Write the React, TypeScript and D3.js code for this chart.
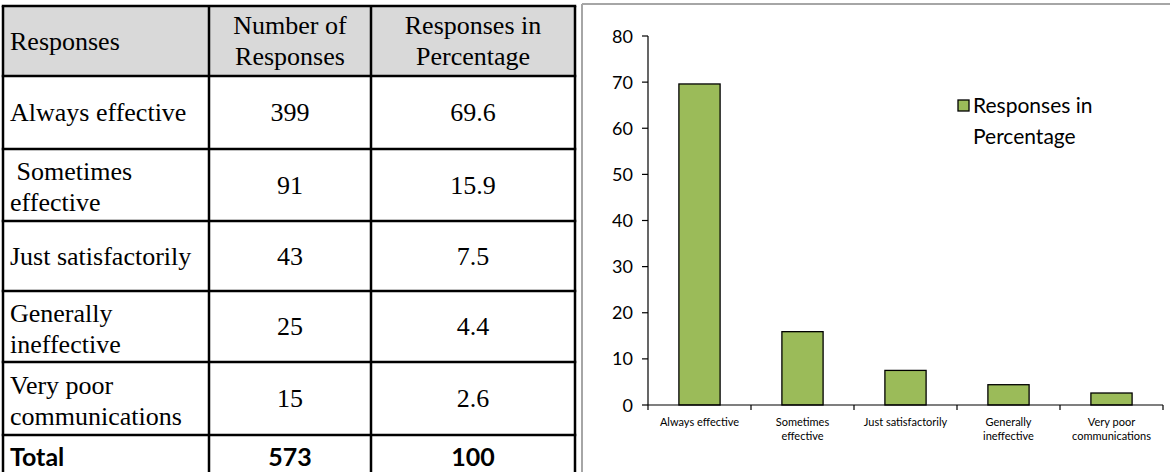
import React from "react";
import * as d3 from "d3";

const categories = ["Always effective", "Sometimes effective", "Just satisfactorily", "Generally ineffective", "Very poor communications"];
const tableLabels = [["Always effective"], [" Sometimes", "effective"], ["Just satisfactorily"], ["Generally", "ineffective"], ["Very poor", "communications"]];
const axisLabels = [["Always effective"], ["Sometimes", "effective"], ["Just satisfactorily"], ["Generally", "ineffective"], ["Very poor", "communications"]];
const counts = [399, 91, 43, 25, 15];
const percents = [69.6, 15.9, 7.5, 4.4, 2.6];
const totalCount = 573;
const totalPercent = 100;
const yTicks = [0, 10, 20, 30, 40, 50, 60, 70, 80];
const seriesName = ["Responses in", "Percentage"];

const W = 1170;
const H = 472;
const serif = "Liberation Serif, DejaVu Serif, serif";
const sans = "Lato, Open Sans, sans-serif";
const green = "#9bbb59";

export default function App() {
  const colX = [3, 209, 371, 575];
  const rowY = [6, 76, 149, 221, 291, 362, 435, 480];
  const fs = 26;

  const x = d3.scaleBand<string>().domain(categories).range([648, 1163]).paddingInner(0.6).paddingOuter(0.3);
  const y = d3.scaleLinear().domain([0, 80]).range([405, 36]);
  const axisX0 = 648, axisX1 = 1163;
  const boundaries = d3.range(categories.length + 1).map(i => axisX0 + (i * (axisX1 - axisX0)) / categories.length);

  const rowCenter = (i: number) => (rowY[i] + rowY[i + 1]) / 2;

  const cellText = (lines: string[], cx: number, cy: number, anchor: string, key: string, lh = 31) => (
    <text key={key} x={cx} textAnchor={anchor as any} style={{ fontFamily: serif, fontSize: fs }} fill="#000">
      {lines.map((l, j) => (
        <tspan key={j} x={cx} y={cy + (j - (lines.length - 1) / 2) * lh + fs * 0.33} style={{ whiteSpace: "pre" }}>{l}</tspan>
      ))}
    </text>
  );

  return (
    <svg width={W} height={H} style={{ position: "absolute", left: 0, top: 0, background: "#fff" }}>
      {/* Table */}
      <rect x={colX[0]} y={rowY[0]} width={colX[3] - colX[0]} height={rowY[1] - rowY[0]} fill="#d9d9d9" />
      {cellText(["Responses"], 10, rowCenter(0), "start", "h0")}
      {cellText(["Number of", "Responses"], (colX[1] + colX[2]) / 2, rowCenter(0), "middle", "h1")}
      {cellText(["Responses in", "Percentage"], (colX[2] + colX[3]) / 2, rowCenter(0), "middle", "h2")}
      {tableLabels.map((lbl, i) => (
        <g key={i}>
          {cellText(lbl, 10, rowCenter(i + 1) + (lbl.length > 1 ? 2 : 0), "start", "l" + i)}
          {cellText([String(counts[i])], (colX[1] + colX[2]) / 2, rowCenter(i + 1), "middle", "c" + i)}
          {cellText([String(percents[i])], (colX[2] + colX[3]) / 2, rowCenter(i + 1), "middle", "p" + i)}
        </g>
      ))}
      <g style={{ fontFamily: sans, fontWeight: 700, fontSize: 25 }} fill="#000">
        <text x={10} y={rowY[6] + 31}>Total</text>
        <text x={(colX[1] + colX[2]) / 2} y={rowY[6] + 31} textAnchor="middle">{totalCount}</text>
        <text x={(colX[2] + colX[3]) / 2} y={rowY[6] + 31} textAnchor="middle">{totalPercent}</text>
      </g>
      <g stroke="#000" strokeWidth={2.5}>
        {rowY.map((ry, i) => (
          <line key={"r" + i} x1={colX[0] - 1.25} x2={colX[3] + 1.25} y1={ry} y2={ry} />
        ))}
        {colX.map((cx, i) => (
          <line key={"c" + i} x1={cx} x2={cx} y1={rowY[0]} y2={rowY[rowY.length - 1]} />
        ))}
      </g>

      {/* Chart frame */}
      <line x1={582} x2={582} y1={4} y2={H} stroke="#a6a6a6" strokeWidth={2} />
      <line x1={582} x2={W} y1={4} y2={4} stroke="#a6a6a6" strokeWidth={2} />

      {/* Bars */}
      {categories.map((c, i) => (
        <rect key={c} x={x(c)!} y={y(percents[i])} width={x.bandwidth()} height={y(0) - y(percents[i])}
          fill={green} stroke="#000" strokeWidth={1.3} />
      ))}

      {/* Axes */}
      <g stroke="#000" strokeWidth={1.2}>
        <line x1={axisX0} x2={axisX0} y1={y(80)} y2={y(0)} />
        {yTicks.map(t => (
          <line key={t} x1={axisX0 - 6} x2={axisX0} y1={y(t)} y2={y(t)} />
        ))}
        <line x1={axisX0} x2={axisX1} y1={y(0)} y2={y(0)} />
        {boundaries.map((b, i) => (
          <line key={i} x1={b} x2={b} y1={y(0)} y2={y(0) + 5} />
        ))}
      </g>
      <g style={{ fontFamily: sans, fontSize: 18 }} fill="#000">
        {yTicks.map(t => (
          <text key={t} x={axisX0 - 15} y={y(t) + 6.5} textAnchor="end">{t}</text>
        ))}
      </g>
      <g style={{ fontFamily: sans, fontSize: 11 }} fill="#000">
        {categories.map((c, i) => (
          <text key={c} textAnchor="middle">
            {axisLabels[i].map((l, j) => (
              <tspan key={j} x={x(c)! + x.bandwidth() / 2} y={y(0) + 21 + j * 14}>{l}</tspan>
            ))}
          </text>
        ))}
      </g>

      {/* Legend */}
      <rect x={958} y={100} width={11} height={11} fill={green} stroke="#000" strokeWidth={1.3} />
      <g style={{ fontFamily: sans, fontSize: 21 }} fill="#000">
        <text x={973} y={113}>{seriesName[0]}</text>
        <text x={973} y={144}>{seriesName[1]}</text>
      </g>
    </svg>
  );
}
